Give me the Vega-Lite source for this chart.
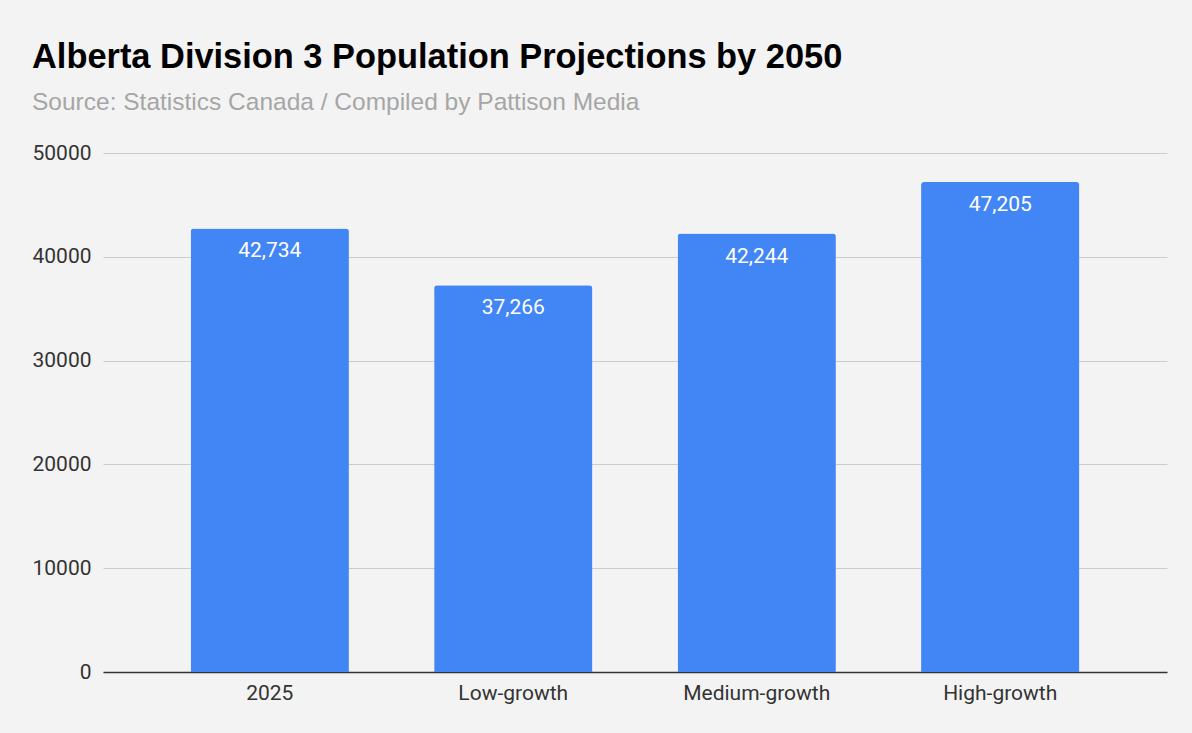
{
  "$schema": "https://vega.github.io/schema/vega-lite/v6.json",
  "autosize": {"type": "none"},
  "width": 1064,
  "height": 519,
  "padding": {"left": 103, "top": 153, "right": 25, "bottom": 61},
  "background": "#f3f3f3",
  "title": {
    "text": "Alberta Division 3 Population Projections by 2050",
    "subtitle": "Source: Statistics Canada / Compiled by Pattison Media",
    "anchor": "start",
    "frame": "group",
    "dx": -71,
    "offset": 27,
    "font": "Liberation Sans",
    "fontSize": 34.4,
    "fontWeight": "bold",
    "color": "#000000",
    "subtitleFont": "Liberation Sans",
    "subtitleFontSize": 24.5,
    "subtitleColor": "#a6a6a6",
    "subtitlePadding": 15
  },
  "data": {
    "values": [
      {"scenario": "2025", "population": 42734},
      {"scenario": "Low-growth", "population": 37266},
      {"scenario": "Medium-growth", "population": 42244},
      {"scenario": "High-growth", "population": 47205}
    ]
  },
  "encoding": {
    "x": {
      "field": "scenario",
      "type": "nominal",
      "sort": null,
      "title": null,
      "scale": {"paddingInner": 0.35, "paddingOuter": 0.36},
      "axis": {
        "labelAngle": 0,
        "labelFont": "Roboto",
        "labelFontSize": 21,
        "labelColor": "#333333",
        "labelPadding": 10,
        "ticks": false,
        "domain": true,
        "domainColor": "#333333",
        "domainWidth": 1.5,
        "grid": false
      }
    },
    "y": {
      "field": "population",
      "type": "quantitative",
      "title": null,
      "scale": {"domain": [0, 50000], "nice": false},
      "axis": {
        "values": [0, 10000, 20000, 30000, 40000, 50000],
        "format": "d",
        "labelFont": "Roboto",
        "labelFontSize": 21,
        "labelColor": "#333333",
        "labelPadding": 12,
        "ticks": false,
        "domain": false,
        "gridColor": "#cccccc",
        "gridWidth": 1
      }
    }
  },
  "layer": [
    {
      "mark": {"type": "bar", "color": "#4285f4", "cornerRadiusTopLeft": 3, "cornerRadiusTopRight": 3}
    },
    {
      "mark": {"type": "text", "color": "#ffffff", "font": "Roboto", "fontSize": 21, "baseline": "middle", "dy": 23},
      "encoding": {
        "text": {"field": "population", "type": "quantitative", "format": ","}
      }
    }
  ],
  "config": {"view": {"stroke": null}}
}
